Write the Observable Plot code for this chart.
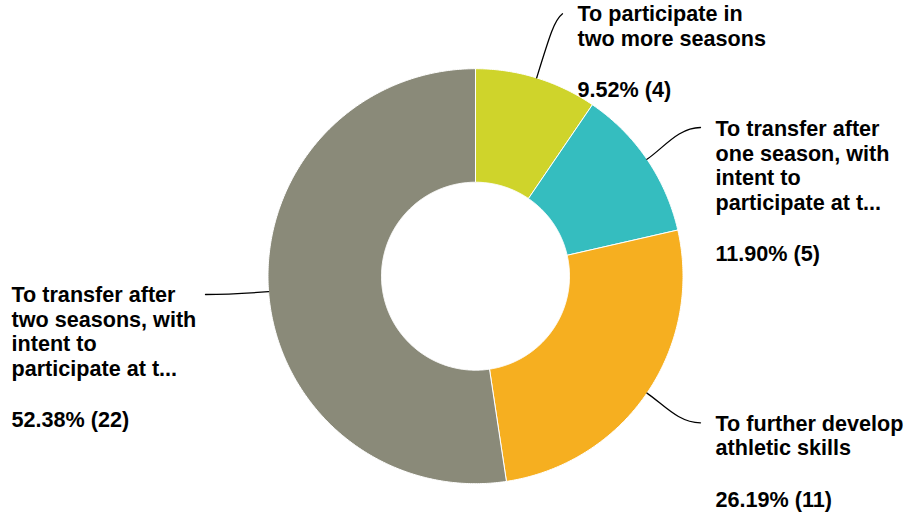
<!DOCTYPE html>
<html>
<head>
<meta charset="utf-8">
<script src="https://cdn.jsdelivr.net/npm/d3@7"></script>
<script src="https://cdn.jsdelivr.net/npm/@observablehq/plot@0.6"></script>
<style>
  html, body { margin: 0; padding: 0; background: #fff; }
  #chart svg { display: block; }
</style>
</head>
<body>
<div id="chart"></div>
<script>
// ---- data ----
const categories = [
  "To participate in\ntwo more seasons",
  "To transfer after\none season, with\nintent to\nparticipate at t...",
  "To further develop\nathletic skills",
  "To transfer after\ntwo seasons, with\nintent to\nparticipate at t..."
];
const counts = [4, 5, 11, 22];
const colors = ["#CFD42B", "#35BDBF", "#F6AF20", "#8A8A79"];

// ---- layout (pixels) ----
const W = 910, H = 515;
const CX = 475, CY = 275.7, R = 207.5, R0 = 94;
const FONT = 21.6, LINE = 24.5, PCT_GAP = 51.5;
const labelLayout = [
  {x: 577, y: 20.7,  endX: 562, endY: 13.3,  k1: 45, hx: -8,  hy: 6},
  {x: 715, y: 135.7, endX: 700, endY: 127,   k1: 20, hx: -22, hy: 0},
  {x: 715, y: 430,   endX: 700, endY: 422.3, k1: 20, hx: -22, hy: 0},
  {x: 11,  y: 301.7, endX: 205, endY: 294,   k1: 20, hx: 20,  hy: 0}
];

// ---- derived geometry ----
const total = d3.sum(counts);
let acc = 0;
const slices = counts.map((v, i) => {
  const a0 = acc / total * 2 * Math.PI; acc += v;
  const a1 = acc / total * 2 * Math.PI;
  return {i, a0, a1, mid: (a0 + a1) / 2, v};
});
const pt = (a, r) => [CX + r * Math.sin(a), CY - r * Math.cos(a)];

const polys = [];
slices.forEach(s => {
  const n = Math.max(2, Math.ceil((s.a1 - s.a0) / (Math.PI / 360)));
  const ring = [];
  for (let k = 0; k <= n; k++) ring.push(pt(s.a0 + (s.a1 - s.a0) * k / n, R));
  for (let k = n; k >= 0; k--) ring.push(pt(s.a0 + (s.a1 - s.a0) * k / n, R0));
  ring.push(ring[0]);
  ring.forEach(([x, y]) => polys.push({cat: categories[s.i], x, y}));
});

const leaders = [];
slices.forEach(s => {
  const L = labelLayout[s.i];
  const [sx, sy] = pt(s.mid, R);
  const dx = Math.sin(s.mid), dy = -Math.cos(s.mid);
  leaders.push(
    {id: s.i, x: sx, y: sy},
    {id: s.i, x: sx + dx * L.k1, y: sy + dy * L.k1},
    {id: s.i, x: L.endX + L.hx, y: L.endY + L.hy},
    {id: s.i, x: L.endX, y: L.endY}
  );
});

const texts = [];
slices.forEach(s => {
  const L = labelLayout[s.i];
  const lines = categories[s.i].split("\n");
  lines.forEach((t, j) => texts.push({x: L.x, y: L.y + j * LINE, t}));
  const pct = (s.v / total * 100).toFixed(2) + "% (" + s.v + ")";
  texts.push({x: L.x, y: L.y + (lines.length - 1) * LINE + PCT_GAP, t: pct});
});

function cubic(context) {
  let p;
  return {
    areaStart() {}, areaEnd() {},
    lineStart() { p = []; },
    point(x, y) { p.push([+x, +y]); },
    lineEnd() {
      if (p.length === 4) {
        context.moveTo(p[0][0], p[0][1]);
        context.bezierCurveTo(p[1][0], p[1][1], p[2][0], p[2][1], p[3][0], p[3][1]);
      } else {
        p.forEach((q, i) => i ? context.lineTo(q[0], q[1]) : context.moveTo(q[0], q[1]));
      }
    }
  };
}

const chart = Plot.plot({
  width: W,
  height: H,
  margin: 0,
  style: {background: "#fff"},
  x: {domain: [0, W], range: [0, W], axis: null},
  y: {domain: [0, H], range: [0, H], axis: null},
  color: {domain: categories, range: colors},
  marks: [
    Plot.line(polys, {x: "x", y: "y", z: "cat", fill: "cat", stroke: "#fff", strokeWidth: 1, strokeLinejoin: "round"}),
    Plot.line(leaders, {x: "x", y: "y", z: "id", curve: cubic, stroke: "#000", strokeWidth: 1.3}),
    Plot.text(texts, {
      x: "x", y: "y", text: "t",
      textAnchor: "start", lineAnchor: "bottom",
      fontSize: FONT, fontWeight: "bold",
      fontFamily: "'Liberation Sans', Arial, Helvetica, sans-serif",
      fill: "#000"
    })
  ]
});
document.getElementById("chart").appendChild(chart);
</script>
</body>
</html>
